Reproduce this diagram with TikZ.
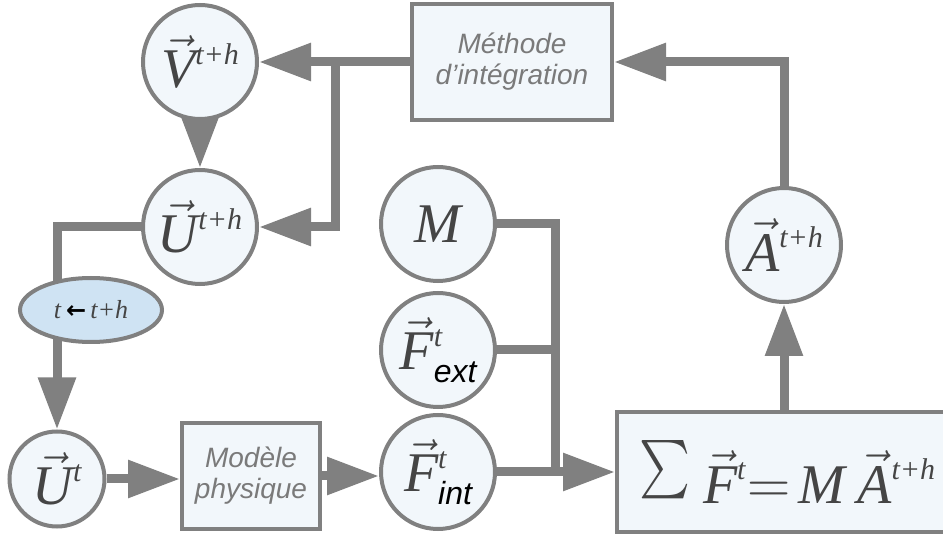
\RequirePackage{fix-cm}
\documentclass[tikz,border=0pt]{standalone}
\usepackage{amsmath}
\usepackage{graphicx}
\usepackage{fontspec}
\setmainfont{Liberation Serif}
\setsansfont{Liberation Sans}
\newfontfamily\arrowfont{DejaVu Sans}
\usepackage{xcolor}
\usepackage{tikz}
\usetikzlibrary{arrows.meta,shapes.geometric,backgrounds}

\definecolor{wire}{HTML}{808080}
\definecolor{cellfill}{HTML}{F2F7FB}
\definecolor{stepfill}{HTML}{CFE3F3}
\definecolor{mathgray}{HTML}{454545}
\definecolor{labelgray}{HTML}{7A7A7A}

\newcommand{\bigsz}{\fontsize{56}{56}\selectfont}
\newcommand{\supsz}{\fontsize{30}{30}\selectfont\itshape}
\newcommand{\subsz}{\fontsize{32}{32}\selectfont\sffamily\itshape\color{black}}
\newcommand{\vv}[1]{$\vec{\mbox{\itshape #1}}$}
\newcommand{\up}[1]{\raisebox{0.42em}{\supsz #1}}
\newcommand{\vsub}[3]{\vv{#1}\rlap{\up{#2}}\raisebox{-0.22em}{\subsz #3}}

\begin{document}
\begin{tikzpicture}[x=1pt,y=-1pt,
    cell/.style={circle,draw=wire,line width=4pt,fill=cellfill,minimum size=114pt,
        inner sep=0pt,text=mathgray,font=\bigsz},
    stepnode/.style={ellipse,draw=wire,line width=4pt,fill=stepfill,minimum width=142pt,
        minimum height=64pt,inner sep=0pt,text=mathgray,font=\fontsize{26}{26}\selectfont},
    boxnode/.style={draw=wire,line width=4pt,fill=cellfill,align=center,text=labelgray,
        font=\sffamily\itshape\fontsize{28}{31}\selectfont},
    sumbox/.style={draw=wire,line width=4pt,fill=cellfill,anchor=west,minimum height=119pt,
        inner xsep=22pt,text=mathgray,font=\bigsz},
    link/.style={line width=9pt,draw=wire},
    flow/.style={link,-{Triangle[length=52pt,width=36pt]}}
]
\path[use as bounding box,clip] (0,0) rectangle (943,534);

\node[cell] (V) at (200,62) {\vv{V}\up{t+h}};
\node[cell] (Uth) at (200,227) {\vv{U}\up{t+h}};
\node[stepnode] (upd) at (91,310)
    {{\itshape t}\hspace{5pt}{\color{black}\arrowfont\bfseries\fontsize{24}{24}\selectfont←}\hspace{4pt}{\itshape t+h}};
\node[cell,minimum size=95pt] (Ut) at (57,479) {\vv{U}\up{t}};
\node[boxnode,minimum width=138pt,minimum height=105pt] (phys) at (251,476) {Modèle\\physique};
\node[cell] (Fint) at (438,472) {\vsub{F}{t}{int}};
\node[cell] (M) at (438,224) {{\itshape M}};
\node[cell] (Fext) at (438,350) {\vsub{F}{t}{ext}};
\node[cell] (A) at (784,245) {\vv{A}\up{t+h}};
\node[boxnode,minimum width=200pt,minimum height=116pt] (meth) at (512,62)
    {Méthode\\d'intégration};
\node[sumbox] (sum) at (615,472)
    {\resizebox*{51pt}{62pt}{$\sum$}\hspace{13pt}\vv{F}\up{t}\hspace{2pt}{\fontsize{60}{60}\selectfont$=$}\hspace{8pt}{\itshape M}\hspace{12pt}\vv{A}\up{t+h}};

\coordinate (split) at (335,62);
\coordinate (merge) at (555,472);

\begin{scope}[on background layer]
\draw[flow] (meth.west) -- (V.east);
\draw[flow] (split) |- (Uth.east);
\draw[flow] (V) -- (Uth);
\draw[link] (Uth.west) -| (Ut |- upd);
\draw[flow] (Ut |- upd) -- (Ut.north);
\draw[flow] (Ut.east) -- (Ut.east -| phys.west);
\draw[flow] (phys.east) -- (phys.east -| Fint.west);
\draw[link] (M.east) -| (merge);
\draw[link] (Fext.east) -- (Fext.east -| merge);
\draw[flow] (Fint.east) -- (sum.west);
\draw[flow] (A |- sum.north) -- (A.south);
\draw[flow] (A.north) |- (meth.east);
\end{scope}
\end{tikzpicture}
\end{document}
